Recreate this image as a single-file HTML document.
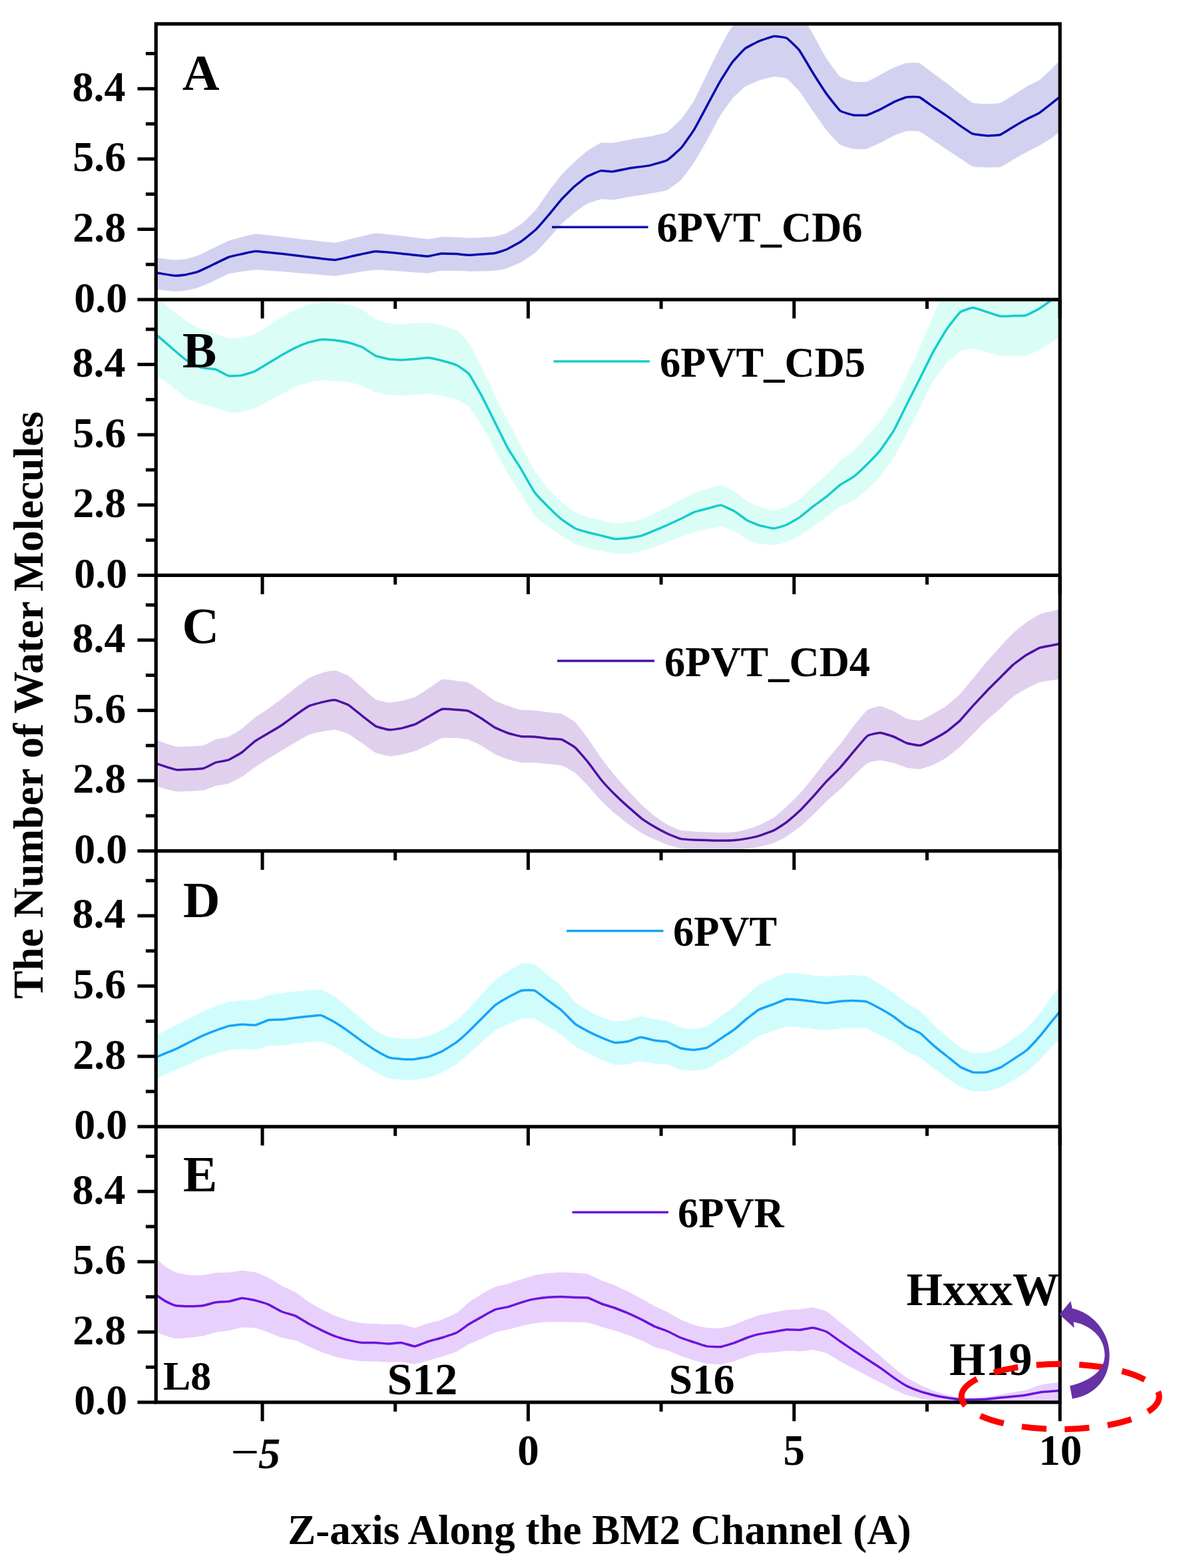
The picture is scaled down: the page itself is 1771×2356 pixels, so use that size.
<!DOCTYPE html>
<html lang="en"><head><meta charset="utf-8"><title>The Number of Water Molecules along the BM2 Channel</title>
<style>html,body{margin:0;padding:0;background:#fff}body{width:1771px;height:2356px;overflow:hidden}svg{display:block}text{font-family:'Liberation Serif', 'DejaVu Serif', serif;font-weight:bold;fill:#000}</style>
</head><body>
<svg width="1771" height="2356" viewBox="0 0 1771 2356">
<rect x="0" y="0" width="1771" height="2356" fill="#fff"/>
<defs>
<clipPath id="clipA"><rect x="234.3" y="35.9" width="1357.9" height="414.2"/></clipPath>
<clipPath id="clipB"><rect x="234.3" y="450.1" width="1357.9" height="414.3"/></clipPath>
<clipPath id="clipC"><rect x="234.3" y="864.4" width="1357.9" height="414.2"/></clipPath>
<clipPath id="clipD"><rect x="234.3" y="1278.6" width="1357.9" height="414.2"/></clipPath>
<clipPath id="clipE"><rect x="234.3" y="1692.8" width="1357.9" height="414.2"/></clipPath>
</defs>
<g>
<rect x="0" y="0" width="1771" height="2356" fill="#fff"/>
<g clip-path="url(#clipA)">
<path d="M231.3,386.6 C231.9,386.7 239.1,387.7 240.8,387.9 C242.6,388.1 259.1,390.5 261.3,390.6 C263.5,390.7 275.6,389.9 277.7,389.5 C279.8,389.1 294.6,385.1 296.8,384.3 C299.0,383.5 313.2,376.3 315.9,375.0 C318.6,373.7 340.5,363.0 343.2,361.9 C345.9,360.8 359.9,357.1 362.3,356.5 C364.7,355.9 380.5,351.6 384.2,351.6 C387.9,351.6 420.3,355.4 425.1,355.9 C429.9,356.4 461.6,360.3 466.1,360.8 C470.6,361.3 498.9,364.9 502.9,364.7 C506.9,364.5 530.7,358.1 534.3,357.3 C537.9,356.5 560.3,350.7 564.3,350.5 C568.3,350.3 598.1,353.8 602.6,354.3 C607.1,354.8 638.6,359.1 642.1,359.2 C645.6,359.3 660.0,356.1 662.6,355.9 C665.2,355.7 683.8,356.5 686.2,356.6 C688.6,356.7 701.1,357.7 704.4,357.6 C707.7,357.5 739.3,355.8 742.6,355.4 C745.9,355.0 759.3,351.1 761.7,350.0 C764.1,348.9 781.1,338.4 783.6,336.3 C786.1,334.2 803.0,317.4 805.4,314.5 C807.8,311.6 822.3,290.2 824.5,287.2 C826.7,284.2 841.4,265.1 843.6,262.6 C845.8,260.1 860.5,245.6 862.7,243.5 C864.9,241.4 879.5,228.8 881.8,227.1 C884.1,225.4 900.1,215.5 902.3,214.8 C904.5,214.1 917.5,215.1 920.1,214.8 C922.7,214.5 944.2,210.0 947.4,209.4 C950.6,208.8 971.5,205.9 974.7,205.3 C977.9,204.7 999.1,200.0 1002.0,198.4 C1004.9,196.8 1021.4,180.8 1023.8,178.0 C1026.2,175.2 1040.7,154.6 1042.9,150.7 C1045.1,146.8 1059.9,115.4 1062.0,111.1 C1064.1,106.8 1076.9,80.9 1078.9,77.0 C1080.9,73.1 1094.3,47.5 1096.7,44.2 C1099.1,40.9 1116.8,22.0 1119.3,19.6 C1121.8,17.2 1137.7,5.3 1140.2,3.9 C1142.7,2.5 1160.1,-4.6 1162.5,-5.0 C1164.9,-5.4 1179.4,-3.5 1181.6,-2.2 C1183.8,-0.9 1198.6,14.2 1200.7,16.9 C1202.8,19.6 1215.3,40.8 1217.7,44.9 C1220.1,49.0 1239.0,83.8 1241.6,87.9 C1244.2,92.0 1259.7,113.2 1262.1,115.2 C1264.5,117.2 1280.3,122.4 1282.6,122.8 C1284.9,123.2 1299.4,123.4 1301.7,122.8 C1304.0,122.2 1319.8,113.6 1322.2,112.4 C1324.6,111.2 1340.4,102.5 1342.7,101.5 C1345.0,100.5 1359.6,95.1 1361.8,94.7 C1364.0,94.3 1378.6,93.8 1380.9,94.7 C1383.2,95.6 1399.0,108.0 1401.4,109.7 C1403.8,111.5 1419.4,122.9 1421.8,124.7 C1424.2,126.5 1440.0,139.3 1442.3,141.1 C1444.6,142.9 1459.0,153.9 1461.4,154.8 C1463.8,155.7 1480.9,156.1 1483.3,156.1 C1485.7,156.1 1500.1,155.6 1502.4,154.8 C1504.7,154.0 1520.5,143.9 1522.8,142.5 C1525.1,141.1 1539.7,131.5 1541.9,130.2 C1544.1,128.9 1558.9,122.1 1561.1,120.6 C1563.3,119.1 1577.0,106.0 1578.8,104.3 C1580.6,102.5 1591.5,91.6 1592.5,90.6 C1593.5,89.6 1595.0,88.1 1595.2,87.9 L1595.2,195.6 C1595.0,195.7 1593.5,196.9 1592.5,197.6 C1591.5,198.3 1580.6,206.8 1578.8,208.0 C1577.0,209.2 1563.3,217.7 1561.1,218.9 C1558.9,220.1 1544.1,227.3 1541.9,228.5 C1539.7,229.7 1525.1,238.1 1522.8,239.4 C1520.5,240.7 1504.7,250.4 1502.4,251.1 C1500.1,251.8 1485.7,251.7 1483.3,251.7 C1480.9,251.7 1463.8,251.1 1461.4,250.3 C1459.0,249.5 1444.6,239.5 1442.3,238.0 C1440.0,236.5 1424.2,226.0 1421.8,224.4 C1419.4,222.8 1403.8,212.3 1401.4,210.7 C1399.0,209.1 1383.2,198.4 1380.9,197.6 C1378.6,196.8 1364.0,196.7 1361.8,197.1 C1359.6,197.5 1345.0,202.9 1342.7,203.9 C1340.4,204.9 1324.6,213.6 1322.2,214.8 C1319.8,216.0 1304.0,223.3 1301.7,223.8 C1299.4,224.3 1284.9,224.2 1282.6,223.8 C1280.3,223.4 1264.5,219.1 1262.1,217.5 C1259.7,215.9 1244.0,198.6 1241.6,195.7 C1239.2,192.8 1223.6,170.4 1221.2,167.0 C1218.8,163.6 1203.0,139.9 1200.7,137.0 C1198.4,134.1 1183.8,119.2 1181.6,117.9 C1179.4,116.6 1164.9,115.0 1162.5,115.2 C1160.1,115.4 1142.7,120.0 1140.2,120.9 C1137.7,121.8 1121.6,128.6 1119.3,130.2 C1117.0,131.8 1102.4,145.3 1100.2,147.9 C1098.0,150.5 1083.3,171.5 1081.1,175.2 C1078.9,178.9 1064.2,206.7 1062.0,210.7 C1059.8,214.7 1045.1,240.1 1042.9,243.5 C1040.7,246.9 1026.2,266.9 1023.8,269.4 C1021.4,271.9 1004.9,284.5 1002.0,285.8 C999.1,287.1 977.9,290.7 974.7,291.3 C971.5,291.9 950.6,294.9 947.4,295.4 C944.2,295.9 922.7,300.1 920.1,300.3 C917.5,300.5 904.5,299.0 902.3,299.4 C900.1,299.8 884.1,305.1 881.8,306.3 C879.5,307.5 864.9,318.1 862.7,319.9 C860.5,321.6 845.8,334.1 843.6,336.3 C841.4,338.5 826.7,355.6 824.5,358.1 C822.3,360.6 807.8,376.5 805.4,378.6 C803.0,380.7 786.1,392.2 783.6,393.6 C781.1,395.0 764.1,402.4 761.7,403.2 C759.3,404.0 745.9,406.4 742.6,406.7 C739.3,407.0 707.7,407.8 704.4,407.8 C701.1,407.8 688.6,407.2 686.2,407.1 C683.8,407.0 665.2,406.5 662.6,406.7 C660.0,406.9 645.6,410.4 642.1,410.5 C638.6,410.6 607.1,408.1 602.6,407.8 C598.1,407.5 568.3,405.5 564.3,405.6 C560.3,405.7 537.9,409.2 534.3,409.7 C530.7,410.2 506.9,414.5 502.9,414.6 C498.9,414.7 470.6,412.0 466.1,411.6 C461.6,411.2 429.9,408.7 425.1,408.3 C420.3,407.9 387.9,405.6 384.2,405.6 C380.5,405.6 364.7,407.9 362.3,408.3 C359.9,408.7 345.9,410.6 343.2,411.6 C340.5,412.6 318.6,423.5 315.9,424.7 C313.2,425.9 299.0,431.7 296.8,432.4 C294.6,433.1 279.8,436.4 277.7,436.7 C275.6,437.0 263.5,437.9 261.3,437.8 C259.1,437.7 242.6,435.7 240.8,435.5 C239.1,435.3 231.9,434.5 231.3,434.4 Z" fill="#d2d2f0"/>
<path d="M231.3,409.3 C231.9,409.4 239.1,410.5 240.8,410.8 C242.6,411.1 259.1,414.0 261.3,414.1 C263.5,414.2 275.6,413.3 277.7,413.0 C279.8,412.7 294.6,409.1 296.8,408.3 C299.0,407.5 313.2,400.9 315.9,399.6 C318.6,398.3 340.5,387.5 343.2,386.5 C345.9,385.5 359.9,382.4 362.3,381.9 C364.7,381.4 380.5,377.5 384.2,377.5 C387.9,377.5 420.3,381.1 425.1,381.6 C429.9,382.1 461.6,386.0 466.1,386.5 C470.6,387.0 498.9,390.8 502.9,390.6 C506.9,390.4 530.7,384.5 534.3,383.8 C537.9,383.1 560.3,378.0 564.3,377.8 C568.3,377.6 598.1,380.6 602.6,381.0 C607.1,381.4 638.6,385.1 642.1,385.1 C645.6,385.1 660.0,381.2 662.6,381.0 C665.2,380.8 683.8,381.5 686.2,381.6 C688.6,381.7 701.1,383.4 704.4,383.3 C707.7,383.2 739.3,381.0 742.6,380.5 C745.9,380.0 759.3,375.6 761.7,374.5 C764.1,373.4 781.1,363.9 783.6,362.2 C786.1,360.4 803.0,346.8 805.4,344.5 C807.8,342.2 822.3,325.3 824.5,322.7 C826.7,320.1 841.4,301.9 843.6,299.4 C845.8,296.9 860.5,282.3 862.7,280.3 C864.9,278.3 879.5,266.7 881.8,265.3 C884.1,263.9 900.1,257.0 902.3,256.6 C904.5,256.2 917.5,257.9 920.1,257.7 C922.7,257.5 944.2,253.0 947.4,252.5 C950.6,252.0 971.5,249.6 974.7,248.9 C977.9,248.2 999.1,242.4 1002.0,240.8 C1004.9,239.2 1021.4,224.3 1023.8,221.6 C1026.2,218.9 1040.7,198.0 1042.9,194.3 C1045.1,190.6 1059.8,163.0 1062.0,158.9 C1064.2,154.8 1078.9,127.2 1081.1,123.4 C1083.3,119.6 1098.0,96.2 1100.2,93.3 C1102.4,90.4 1117.0,74.7 1119.3,72.9 C1121.6,71.1 1137.7,63.0 1140.2,61.9 C1142.7,60.8 1160.1,54.9 1162.5,54.6 C1164.9,54.3 1179.4,56.1 1181.6,57.3 C1183.8,58.5 1198.4,72.5 1200.7,75.6 C1203.0,78.7 1218.8,105.9 1221.2,109.7 C1223.6,113.5 1239.2,137.8 1241.6,141.1 C1244.0,144.4 1259.7,164.6 1262.1,166.5 C1264.5,168.4 1280.3,172.6 1282.6,173.0 C1284.9,173.4 1299.4,173.5 1301.7,173.0 C1304.0,172.5 1319.8,165.4 1322.2,164.3 C1324.6,163.2 1340.4,154.5 1342.7,153.4 C1345.0,152.3 1359.6,146.4 1361.8,146.0 C1364.0,145.6 1378.6,145.2 1380.9,146.0 C1383.2,146.8 1399.0,158.6 1401.4,160.2 C1403.8,161.8 1419.4,172.2 1421.8,173.9 C1424.2,175.6 1440.0,187.3 1442.3,188.9 C1444.6,190.5 1459.0,200.3 1461.4,201.2 C1463.8,202.1 1480.9,203.8 1483.3,203.9 C1485.7,204.0 1500.1,203.3 1502.4,202.5 C1504.7,201.7 1520.5,191.6 1522.8,190.2 C1525.1,188.8 1539.7,180.5 1541.9,179.3 C1544.1,178.1 1558.9,171.2 1561.1,169.8 C1563.3,168.4 1577.0,157.5 1578.8,156.1 C1580.6,154.7 1591.5,146.0 1592.5,145.2 C1593.5,144.4 1595.0,143.2 1595.2,143.1" fill="none" stroke="#0c0cae" stroke-width="3.5" stroke-linejoin="round"/>
</g>
<g clip-path="url(#clipB)">
<path d="M231.3,442.7 C231.6,443.0 235.3,446.1 236.7,447.3 C238.1,448.5 253.3,461.6 255.8,463.7 C258.3,465.8 277.7,481.0 280.4,482.8 C283.1,484.6 299.8,493.9 302.3,495.0 C304.8,496.1 321.7,501.1 324.1,501.9 C326.5,502.7 341.0,507.8 343.2,508.1 C345.4,508.5 360.0,508.3 362.3,507.9 C364.6,507.5 380.4,503.0 382.8,501.9 C385.2,500.8 400.9,491.1 403.3,489.6 C405.7,488.1 421.3,477.3 423.7,475.9 C426.1,474.5 441.8,466.1 444.2,465.0 C446.6,463.9 462.4,458.2 464.7,457.6 C467.0,457.0 481.5,455.0 483.8,454.9 C486.1,454.8 501.9,455.3 504.3,455.5 C506.7,455.7 522.4,457.6 524.7,458.2 C527.0,458.8 541.6,463.8 543.9,465.0 C546.2,466.2 562.0,478.3 564.3,479.5 C566.6,480.7 581.2,485.1 583.4,485.5 C585.6,485.9 600.3,486.9 602.6,486.9 C604.9,486.9 620.6,485.6 623.0,485.5 C625.4,485.4 641.2,484.7 643.5,484.9 C645.8,485.1 660.1,487.6 662.6,488.2 C665.1,488.8 683.8,494.4 686.2,496.0 C688.6,497.6 702.2,512.3 704.4,515.5 C706.6,518.7 721.3,546.5 723.5,551.0 C725.7,555.5 740.3,587.2 742.6,592.0 C744.9,596.8 760.8,628.4 763.1,632.9 C765.4,637.4 779.9,664.1 782.2,668.4 C784.5,672.7 800.3,702.8 802.7,706.6 C805.1,710.4 820.7,731.1 823.1,733.9 C825.5,736.7 841.2,752.3 843.6,754.4 C846.0,756.5 861.8,768.0 864.1,769.4 C866.4,770.8 880.9,776.9 883.2,777.6 C885.5,778.3 901.3,781.2 903.7,781.7 C906.1,782.2 921.7,786.1 924.1,786.3 C926.5,786.5 942.3,784.8 944.6,784.4 C946.9,784.0 961.4,781.1 963.7,780.3 C966.0,779.5 981.9,771.9 984.2,770.8 C986.5,769.7 1001.0,762.4 1003.3,761.2 C1005.6,760.0 1021.5,751.5 1023.8,750.3 C1026.1,749.1 1040.6,741.7 1042.9,740.7 C1045.2,739.7 1061.1,734.6 1063.4,733.9 C1065.7,733.2 1080.2,728.3 1082.5,728.5 C1084.8,728.7 1100.7,736.6 1103.0,738.0 C1105.3,739.4 1119.9,751.6 1122.1,753.0 C1124.3,754.4 1137.8,760.7 1140.2,761.5 C1142.6,762.3 1160.1,766.7 1162.5,766.7 C1164.9,766.7 1179.4,762.2 1181.6,761.2 C1183.8,760.2 1198.4,752.0 1200.7,750.3 C1203.0,748.5 1218.8,733.4 1221.2,731.2 C1223.6,729.0 1239.2,715.6 1241.6,713.4 C1244.0,711.2 1259.7,695.1 1262.1,693.0 C1264.5,690.9 1280.2,678.8 1282.6,676.6 C1285.0,674.4 1300.8,657.3 1303.1,654.8 C1305.4,652.3 1319.9,635.9 1322.2,632.9 C1324.5,629.9 1340.4,606.9 1342.7,602.9 C1345.0,598.9 1359.5,569.5 1361.8,564.7 C1364.1,559.9 1379.9,526.3 1382.2,521.0 C1384.5,515.7 1399.4,479.2 1401.4,474.6 C1403.4,470.0 1414.7,445.6 1417.1,441.8 C1419.5,438.0 1439.7,411.4 1442.3,409.0 C1444.9,406.6 1459.1,401.1 1461.4,400.9 C1463.7,400.7 1479.5,405.6 1481.9,406.3 C1484.3,407.0 1500.1,412.7 1502.4,413.1 C1504.7,413.5 1519.3,413.2 1521.5,413.1 C1523.7,413.0 1538.3,412.5 1540.6,411.8 C1542.9,411.1 1558.9,402.3 1561.1,400.9 C1563.3,399.5 1577.0,388.5 1578.8,387.2 C1580.6,385.9 1591.5,379.6 1592.5,379.0 C1593.5,378.4 1595.0,377.5 1595.2,377.4 L1595.2,504.2 C1595.0,504.3 1593.5,505.4 1592.5,506.0 C1591.5,506.6 1580.6,513.8 1578.8,515.0 C1577.0,516.2 1563.3,525.3 1561.1,526.4 C1558.9,527.5 1542.9,533.6 1540.6,534.1 C1538.3,534.6 1523.7,535.2 1521.5,535.2 C1519.3,535.2 1504.7,535.0 1502.4,534.6 C1500.1,534.2 1484.3,529.8 1481.9,529.2 C1479.5,528.6 1463.7,523.8 1461.4,523.7 C1459.1,523.6 1444.6,526.5 1442.3,527.8 C1440.0,529.1 1424.2,543.0 1421.8,545.6 C1419.4,548.2 1403.7,569.0 1401.4,572.9 C1399.1,576.8 1384.5,607.8 1382.2,612.4 C1379.9,617.0 1364.1,647.6 1361.8,652.0 C1359.5,656.4 1345.0,683.8 1342.7,687.5 C1340.4,691.2 1324.5,713.4 1322.2,716.2 C1319.9,719.0 1305.4,733.2 1303.1,735.3 C1300.8,737.4 1285.0,750.2 1282.6,751.7 C1280.2,753.2 1264.5,759.8 1262.1,761.2 C1259.7,762.6 1244.0,774.4 1241.6,776.2 C1239.2,778.0 1223.6,789.6 1221.2,791.3 C1218.8,793.0 1203.0,803.5 1200.7,804.9 C1198.4,806.3 1183.8,813.7 1181.6,814.5 C1179.4,815.3 1164.9,819.0 1162.5,819.1 C1160.1,819.2 1142.6,817.3 1140.2,816.8 C1137.8,816.3 1124.3,811.5 1122.1,810.4 C1119.9,809.3 1105.3,799.2 1103.0,798.1 C1100.7,797.0 1084.8,791.5 1082.5,791.3 C1080.2,791.1 1065.7,794.8 1063.4,795.3 C1061.1,795.8 1045.2,798.8 1042.9,799.4 C1040.6,800.0 1026.1,805.4 1023.8,806.3 C1021.5,807.2 1005.6,813.6 1003.3,814.5 C1001.0,815.4 986.5,820.5 984.2,821.3 C981.9,822.1 966.0,827.5 963.7,828.1 C961.4,828.7 946.9,831.5 944.6,831.7 C942.3,831.9 926.5,832.4 924.1,832.2 C921.7,832.0 906.1,828.6 903.7,828.1 C901.3,827.6 885.5,824.6 883.2,824.0 C880.9,823.4 866.4,818.3 864.1,817.2 C861.8,816.1 846.0,806.4 843.6,804.9 C841.2,803.4 825.5,793.0 823.1,791.3 C820.7,789.5 805.1,777.8 802.7,774.9 C800.3,772.0 784.5,745.8 782.2,742.1 C779.9,738.4 765.4,716.1 763.1,712.1 C760.8,708.1 744.9,678.2 742.6,673.9 C740.3,669.6 725.7,642.1 723.5,638.4 C721.3,634.7 706.6,613.3 704.4,611.1 C702.2,608.9 688.6,601.3 686.2,600.3 C683.8,599.3 665.1,595.2 662.6,594.7 C660.1,594.2 645.8,591.5 643.5,591.4 C641.2,591.3 625.4,593.1 623.0,593.3 C620.6,593.5 604.9,594.7 602.6,594.7 C600.3,594.7 585.6,593.6 583.4,593.3 C581.2,593.0 566.6,590.0 564.3,589.2 C562.0,588.4 546.2,580.6 543.9,579.7 C541.6,578.8 527.0,574.6 524.7,574.2 C522.4,573.8 506.7,573.1 504.3,572.9 C501.9,572.7 486.1,571.4 483.8,571.5 C481.5,571.6 467.0,573.6 464.7,574.2 C462.4,574.8 446.6,580.0 444.2,581.0 C441.8,582.0 426.1,590.7 423.7,592.0 C421.3,593.3 405.7,601.7 403.3,602.9 C400.9,604.1 385.2,612.3 382.8,613.3 C380.4,614.3 364.6,618.9 362.3,619.3 C360.0,619.7 345.4,620.2 343.2,619.8 C341.0,619.4 326.5,613.1 324.1,612.4 C321.7,611.7 304.8,607.8 302.3,607.0 C299.8,606.2 283.1,600.5 280.4,598.8 C277.7,597.1 258.3,580.2 255.8,578.3 C253.3,576.4 238.1,566.9 236.7,566.0 C235.3,565.1 231.6,562.7 231.3,562.5 Z" fill="#dafef6"/>
<path d="M231.3,500.0 C231.6,500.3 235.3,503.4 236.7,504.6 C238.1,505.8 253.3,518.8 255.8,521.0 C258.3,523.2 277.7,539.7 280.4,541.5 C283.1,543.3 299.8,551.6 302.3,552.4 C304.8,553.2 321.7,554.4 324.1,555.1 C326.5,555.8 341.0,564.2 343.2,564.7 C345.4,565.2 360.0,564.5 362.3,564.1 C364.6,563.7 380.4,558.9 382.8,557.8 C385.2,556.7 400.9,547.0 403.3,545.6 C405.7,544.2 421.3,534.7 423.7,533.3 C426.1,531.9 441.8,523.4 444.2,522.3 C446.6,521.2 462.4,514.9 464.7,514.2 C467.0,513.5 481.5,510.3 483.8,510.1 C486.1,509.9 501.9,511.1 504.3,511.4 C506.7,511.7 522.4,514.4 524.7,515.0 C527.0,515.6 541.6,520.4 543.9,521.5 C546.2,522.6 562.0,533.6 564.3,534.6 C566.6,535.6 581.2,539.1 583.4,539.5 C585.6,539.9 600.3,540.9 602.6,540.9 C604.9,540.9 620.6,539.7 623.0,539.5 C625.4,539.3 641.2,537.3 643.5,537.4 C645.8,537.5 660.1,540.8 662.6,541.5 C665.1,542.2 683.8,547.5 686.2,548.7 C688.6,549.9 702.2,559.2 704.4,561.9 C706.6,564.6 721.3,590.6 723.5,594.7 C725.7,598.8 740.3,628.3 742.6,632.9 C744.9,637.5 760.8,669.8 763.1,673.9 C765.4,678.0 779.9,700.1 782.2,703.9 C784.5,707.7 800.3,736.1 802.7,739.4 C805.1,742.7 820.7,758.8 823.1,761.2 C825.5,763.6 841.2,778.4 843.6,780.3 C846.0,782.2 861.8,792.9 864.1,794.0 C866.4,795.1 880.9,799.4 883.2,800.0 C885.5,800.6 901.3,804.3 903.7,804.9 C906.1,805.5 921.7,809.6 924.1,809.8 C926.5,810.0 942.3,808.5 944.6,808.2 C946.9,807.9 961.4,805.6 963.7,804.9 C966.0,804.2 981.9,797.7 984.2,796.7 C986.5,795.7 1001.0,789.5 1003.3,788.5 C1005.6,787.5 1021.5,780.1 1023.8,779.0 C1026.1,777.9 1040.6,770.3 1042.9,769.4 C1045.2,768.5 1061.1,764.6 1063.4,764.0 C1065.7,763.4 1080.2,758.8 1082.5,759.0 C1084.8,759.2 1100.7,766.7 1103.0,768.0 C1105.3,769.3 1119.9,780.5 1122.1,781.7 C1124.3,782.9 1137.8,788.5 1140.2,789.2 C1142.6,789.9 1160.1,794.0 1162.5,794.0 C1164.9,794.0 1179.4,789.5 1181.6,788.5 C1183.8,787.5 1198.4,779.2 1200.7,777.6 C1203.0,776.0 1218.8,763.0 1221.2,761.2 C1223.6,759.4 1239.2,748.1 1241.6,746.2 C1244.0,744.3 1259.7,730.2 1262.1,728.5 C1264.5,726.8 1280.2,718.0 1282.6,716.2 C1285.0,714.4 1300.8,699.4 1303.1,697.1 C1305.4,694.8 1319.9,679.5 1322.2,676.6 C1324.5,673.7 1340.4,650.6 1342.7,646.6 C1345.0,642.6 1359.5,612.9 1361.8,608.3 C1364.1,603.7 1379.9,572.5 1382.2,567.9 C1384.5,563.3 1399.1,533.7 1401.4,529.4 C1403.7,525.1 1419.4,498.5 1421.8,495.0 C1424.2,491.5 1440.0,471.0 1442.3,469.1 C1444.6,467.2 1459.1,462.3 1461.4,462.3 C1463.7,462.3 1479.5,467.9 1481.9,468.6 C1484.3,469.3 1500.1,474.8 1502.4,475.1 C1504.7,475.5 1519.3,474.7 1521.5,474.6 C1523.7,474.5 1538.3,474.6 1540.6,474.0 C1542.9,473.4 1558.9,465.0 1561.1,463.7 C1563.3,462.4 1577.0,452.7 1578.8,451.4 C1580.6,450.1 1591.5,442.5 1592.5,441.8 C1593.5,441.1 1595.0,440.0 1595.2,439.9" fill="none" stroke="#16cccc" stroke-width="3.5" stroke-linejoin="round"/>
</g>
<g clip-path="url(#clipC)">
<path d="M231.3,1110.6 C231.6,1110.7 234.7,1111.7 236.7,1112.4 C238.7,1113.1 261.4,1121.6 265.4,1122.0 C269.4,1122.4 301.6,1120.7 305.0,1120.1 C308.4,1119.5 321.9,1111.9 324.1,1111.1 C326.3,1110.3 340.9,1108.0 343.2,1107.0 C345.5,1106.0 361.4,1096.4 363.7,1094.7 C366.0,1093.0 380.5,1080.0 382.8,1078.3 C385.1,1076.5 400.9,1066.4 403.3,1064.7 C405.7,1063.0 421.3,1051.4 423.7,1049.6 C426.1,1047.8 441.8,1035.1 444.2,1033.3 C446.6,1031.5 462.4,1019.5 464.7,1018.2 C467.0,1016.9 481.6,1011.5 483.8,1010.9 C486.0,1010.3 500.6,1007.0 502.9,1007.3 C505.2,1007.6 521.0,1014.0 523.4,1015.5 C525.8,1017.0 541.5,1031.2 543.9,1033.3 C546.3,1035.4 561.9,1049.7 564.3,1051.0 C566.7,1052.3 582.5,1055.5 584.8,1055.6 C587.1,1055.7 601.6,1053.4 603.9,1052.9 C606.2,1052.4 622.1,1048.0 624.4,1046.9 C626.7,1045.8 641.2,1036.1 643.5,1034.6 C645.8,1033.1 661.5,1021.7 664.0,1021.0 C666.5,1020.3 683.9,1022.7 686.2,1023.0 C688.5,1023.3 700.8,1024.7 703.0,1025.6 C705.2,1026.5 721.2,1037.1 723.5,1038.7 C725.8,1040.3 740.3,1051.1 742.6,1052.4 C744.9,1053.7 760.8,1059.8 763.1,1060.6 C765.4,1061.4 779.9,1066.2 782.2,1066.6 C784.5,1067.0 800.3,1067.2 802.7,1067.4 C805.1,1067.6 820.7,1069.8 823.1,1070.1 C825.5,1070.4 841.2,1071.9 843.6,1072.8 C846.0,1073.7 861.8,1082.9 864.1,1085.1 C866.4,1087.3 880.9,1106.5 883.2,1109.7 C885.5,1112.9 901.4,1136.5 903.7,1139.7 C906.0,1142.9 920.5,1161.5 922.8,1164.3 C925.1,1167.1 940.9,1184.9 943.3,1187.5 C945.7,1190.1 961.4,1207.1 963.7,1209.3 C966.0,1211.5 980.5,1223.9 982.8,1225.7 C985.1,1227.5 1001.0,1238.1 1003.3,1239.4 C1005.6,1240.7 1020.1,1247.0 1022.4,1247.6 C1024.7,1248.2 1040.6,1249.3 1042.9,1249.5 C1045.2,1249.7 1059.7,1250.2 1062.0,1250.3 C1064.3,1250.4 1080.1,1251.1 1082.5,1251.1 C1084.9,1251.1 1100.7,1250.6 1103.0,1250.3 C1105.3,1250.0 1119.9,1246.8 1122.1,1246.2 C1124.3,1245.6 1137.8,1241.0 1140.2,1240.0 C1142.6,1239.0 1160.1,1230.1 1162.5,1228.5 C1164.9,1226.9 1179.3,1214.3 1181.6,1212.1 C1183.9,1209.9 1199.8,1194.1 1202.1,1191.6 C1204.4,1189.1 1218.9,1171.3 1221.2,1168.4 C1223.5,1165.5 1239.2,1145.4 1241.6,1142.5 C1244.0,1139.6 1259.7,1120.9 1262.1,1117.9 C1264.5,1114.9 1280.2,1093.6 1282.6,1090.6 C1285.0,1087.6 1300.8,1068.3 1303.1,1066.6 C1305.4,1064.9 1319.9,1061.0 1322.2,1061.1 C1324.5,1061.2 1340.4,1067.7 1342.7,1068.8 C1345.0,1069.9 1359.5,1078.9 1361.8,1079.7 C1364.1,1080.5 1379.9,1082.8 1382.2,1082.4 C1384.5,1082.0 1399.1,1074.1 1401.4,1072.8 C1403.7,1071.5 1419.4,1062.3 1421.8,1060.6 C1424.2,1058.8 1440.0,1045.2 1442.3,1042.8 C1444.6,1040.4 1459.1,1022.4 1461.4,1019.6 C1463.7,1016.8 1479.5,997.8 1481.9,995.0 C1484.3,992.2 1500.1,974.3 1502.4,971.8 C1504.7,969.3 1519.2,953.5 1521.5,951.4 C1523.8,949.3 1539.5,936.7 1541.9,935.0 C1544.3,933.3 1560.2,923.7 1562.4,922.7 C1564.6,921.7 1577.0,919.0 1578.8,918.6 C1580.6,918.2 1591.5,915.5 1592.5,915.3 C1593.5,915.1 1595.0,914.6 1595.2,914.6 L1595.2,1019.8 C1595.0,1019.8 1593.5,1020.1 1592.5,1020.2 C1591.5,1020.3 1580.6,1022.0 1578.8,1022.3 C1577.0,1022.6 1564.6,1024.4 1562.4,1025.1 C1560.2,1025.8 1544.3,1033.3 1541.9,1034.6 C1539.5,1035.9 1523.8,1045.1 1521.5,1046.9 C1519.2,1048.7 1504.7,1062.6 1502.4,1064.7 C1500.1,1066.8 1484.3,1080.2 1481.9,1082.4 C1479.5,1084.6 1463.7,1100.6 1461.4,1102.9 C1459.1,1105.2 1444.6,1119.9 1442.3,1122.0 C1440.0,1124.1 1424.2,1136.8 1421.8,1138.4 C1419.4,1140.0 1403.7,1148.3 1401.4,1149.3 C1399.1,1150.3 1384.5,1155.4 1382.2,1155.6 C1379.9,1155.8 1364.1,1153.9 1361.8,1153.4 C1359.5,1152.9 1345.0,1147.2 1342.7,1146.6 C1340.4,1146.0 1324.5,1142.5 1322.2,1142.5 C1319.9,1142.5 1305.4,1145.2 1303.1,1146.6 C1300.8,1148.0 1285.0,1163.4 1282.6,1165.7 C1280.2,1168.0 1264.5,1183.9 1262.1,1186.1 C1259.7,1188.3 1244.0,1201.7 1241.6,1203.9 C1239.2,1206.1 1223.5,1222.2 1221.2,1224.4 C1218.9,1226.6 1204.4,1240.2 1202.1,1242.1 C1199.8,1244.0 1183.9,1255.7 1181.6,1257.1 C1179.3,1258.5 1164.9,1265.8 1162.5,1266.7 C1160.1,1267.6 1142.6,1271.9 1140.2,1272.4 C1137.8,1272.9 1124.3,1274.6 1122.1,1274.9 C1119.9,1275.2 1105.3,1276.7 1103.0,1276.8 C1100.7,1276.9 1084.9,1277.3 1082.5,1277.3 C1080.1,1277.3 1064.3,1277.3 1062.0,1277.3 C1059.7,1277.3 1045.2,1276.9 1042.9,1276.8 C1040.6,1276.7 1024.7,1275.3 1022.4,1274.9 C1020.1,1274.5 1005.6,1270.2 1003.3,1269.4 C1001.0,1268.6 985.1,1262.2 982.8,1261.2 C980.5,1260.2 966.0,1253.1 963.7,1251.7 C961.4,1250.3 945.7,1239.8 943.3,1238.0 C940.9,1236.2 925.1,1223.6 922.8,1221.6 C920.5,1219.6 906.0,1206.3 903.7,1203.9 C901.4,1201.5 885.5,1183.2 883.2,1180.7 C880.9,1178.2 866.4,1163.4 864.1,1161.6 C861.8,1159.8 846.0,1150.9 843.6,1150.1 C841.2,1149.3 825.5,1148.1 823.1,1147.9 C820.7,1147.7 805.1,1146.1 802.7,1146.0 C800.3,1145.9 784.5,1146.0 782.2,1145.7 C779.9,1145.4 765.4,1141.8 763.1,1141.1 C760.8,1140.4 744.9,1134.1 742.6,1132.9 C740.3,1131.7 725.8,1121.9 723.5,1120.6 C721.2,1119.3 705.2,1111.8 703.0,1111.1 C700.8,1110.4 688.5,1109.1 686.2,1109.0 C683.9,1108.9 666.5,1108.3 664.0,1108.9 C661.5,1109.5 645.8,1118.2 643.5,1119.3 C641.2,1120.4 626.7,1127.5 624.4,1128.3 C622.1,1129.1 606.2,1133.2 603.9,1133.7 C601.6,1134.2 587.1,1136.4 584.8,1136.2 C582.5,1136.0 566.7,1132.1 564.3,1131.0 C561.9,1129.9 546.3,1118.1 543.9,1116.5 C541.5,1114.9 525.8,1104.1 523.4,1102.9 C521.0,1101.7 505.2,1096.8 502.9,1096.6 C500.6,1096.4 486.0,1098.9 483.8,1099.3 C481.6,1099.7 467.0,1102.8 464.7,1103.7 C462.4,1104.6 446.6,1113.8 444.2,1115.2 C441.8,1116.6 426.1,1126.0 423.7,1127.4 C421.3,1128.8 405.7,1138.2 403.3,1139.7 C400.9,1141.2 385.1,1151.2 382.8,1152.8 C380.5,1154.4 366.0,1165.6 363.7,1167.0 C361.4,1168.4 345.5,1176.6 343.2,1177.4 C340.9,1178.2 326.3,1180.1 324.1,1180.7 C321.9,1181.3 308.4,1187.0 305.0,1187.5 C301.6,1188.0 269.4,1189.7 265.4,1189.4 C261.4,1189.1 238.7,1182.5 236.7,1182.0 C234.7,1181.5 231.6,1180.7 231.3,1180.6 Z" fill="#e0d0ee"/>
<path d="M231.3,1146.2 C231.6,1146.3 234.7,1147.3 236.7,1147.9 C238.7,1148.5 261.4,1156.3 265.4,1156.7 C269.4,1157.1 301.6,1155.3 305.0,1154.7 C308.4,1154.1 321.9,1146.4 324.1,1145.7 C326.3,1145.0 340.9,1142.8 343.2,1141.9 C345.5,1141.0 361.4,1131.8 363.7,1130.2 C366.0,1128.6 380.5,1115.5 382.8,1113.8 C385.1,1112.1 400.9,1102.9 403.3,1101.5 C405.7,1100.1 421.3,1090.8 423.7,1089.2 C426.1,1087.6 441.8,1075.9 444.2,1074.2 C446.6,1072.5 462.4,1061.7 464.7,1060.6 C467.0,1059.5 481.6,1055.6 483.8,1055.1 C486.0,1054.6 500.6,1051.6 502.9,1051.8 C505.2,1052.0 521.0,1057.8 523.4,1059.2 C525.8,1060.6 541.5,1073.7 543.9,1075.6 C546.3,1077.5 561.9,1089.9 564.3,1091.1 C566.7,1092.3 582.5,1096.4 584.8,1096.6 C587.1,1096.8 601.6,1094.6 603.9,1094.1 C606.2,1093.6 622.1,1088.9 624.4,1087.9 C626.7,1086.9 641.2,1078.2 643.5,1076.9 C645.8,1075.6 661.5,1066.1 664.0,1065.5 C666.5,1064.9 683.9,1066.2 686.2,1066.4 C688.5,1066.6 700.8,1067.4 703.0,1068.2 C705.2,1069.0 721.2,1078.3 723.5,1079.7 C725.8,1081.1 740.3,1091.5 742.6,1092.8 C744.9,1094.1 760.8,1100.7 763.1,1101.5 C765.4,1102.3 779.9,1106.1 782.2,1106.4 C784.5,1106.7 800.3,1106.8 802.7,1107.0 C805.1,1107.2 820.7,1109.5 823.1,1109.7 C825.5,1109.9 841.2,1110.3 843.6,1111.1 C846.0,1111.9 861.8,1121.4 864.1,1123.4 C866.4,1125.4 880.9,1142.3 883.2,1145.2 C885.5,1148.1 901.4,1169.7 903.7,1172.5 C906.0,1175.3 920.5,1190.7 922.8,1193.0 C925.1,1195.3 940.9,1210.0 943.3,1212.1 C945.7,1214.2 961.4,1228.0 963.7,1229.8 C966.0,1231.5 980.5,1240.7 982.8,1242.1 C985.1,1243.5 1001.0,1251.9 1003.3,1253.0 C1005.6,1254.1 1020.1,1259.9 1022.4,1260.4 C1024.7,1260.9 1040.6,1261.9 1042.9,1262.0 C1045.2,1262.1 1059.7,1262.5 1062.0,1262.6 C1064.3,1262.7 1080.1,1263.1 1082.5,1263.1 C1084.9,1263.1 1100.7,1262.8 1103.0,1262.6 C1105.3,1262.4 1119.9,1260.3 1122.1,1259.9 C1124.3,1259.5 1137.8,1256.6 1140.2,1255.9 C1142.6,1255.2 1160.1,1248.8 1162.5,1247.6 C1164.9,1246.4 1179.3,1237.1 1181.6,1235.3 C1183.9,1233.5 1199.8,1219.7 1202.1,1217.5 C1204.4,1215.3 1218.9,1199.6 1221.2,1197.1 C1223.5,1194.6 1239.2,1176.4 1241.6,1173.9 C1244.0,1171.4 1259.7,1156.0 1262.1,1153.4 C1264.5,1150.8 1280.2,1131.6 1282.6,1128.8 C1285.0,1126.0 1300.8,1107.2 1303.1,1105.6 C1305.4,1104.0 1319.9,1100.9 1322.2,1101.0 C1324.5,1101.1 1340.4,1106.1 1342.7,1107.0 C1345.0,1107.9 1359.5,1115.7 1361.8,1116.5 C1364.1,1117.3 1379.9,1120.4 1382.2,1120.1 C1384.5,1119.8 1399.1,1112.3 1401.4,1111.1 C1403.7,1109.9 1419.4,1101.0 1421.8,1099.3 C1424.2,1097.6 1440.0,1084.7 1442.3,1082.4 C1444.6,1080.1 1459.1,1063.1 1461.4,1060.6 C1463.7,1058.1 1479.5,1041.2 1481.9,1038.7 C1484.3,1036.2 1500.1,1020.5 1502.4,1018.2 C1504.7,1015.9 1519.2,1001.1 1521.5,999.1 C1523.8,997.1 1539.5,985.6 1541.9,984.1 C1544.3,982.6 1560.2,974.0 1562.4,973.2 C1564.6,972.4 1577.0,970.2 1578.8,969.9 C1580.6,969.5 1591.5,967.4 1592.5,967.2 C1593.5,967.0 1595.0,966.7 1595.2,966.7" fill="none" stroke="#4d10a3" stroke-width="3.5" stroke-linejoin="round"/>
</g>
<g clip-path="url(#clipD)">
<path d="M231.3,1557.2 C231.9,1556.9 238.8,1553.4 240.8,1552.4 C242.8,1551.4 262.9,1541.4 265.4,1540.1 C267.9,1538.8 282.2,1531.7 284.5,1530.5 C286.8,1529.3 302.7,1520.7 305.0,1519.6 C307.3,1518.5 321.8,1512.2 324.1,1511.4 C326.4,1510.6 342.3,1505.6 344.6,1505.1 C346.9,1504.6 361.4,1503.4 363.7,1503.2 C366.0,1503.0 381.9,1502.9 384.2,1502.4 C386.5,1501.9 401.0,1495.6 403.3,1495.0 C405.6,1494.4 421.3,1492.6 423.7,1492.3 C426.1,1492.0 441.8,1489.9 444.2,1489.6 C446.6,1489.3 462.5,1487.9 464.7,1487.7 C466.9,1487.5 480.2,1486.2 482.4,1486.8 C484.6,1487.4 500.5,1496.2 502.9,1497.8 C505.3,1499.4 521.0,1512.1 523.4,1514.1 C525.8,1516.1 541.5,1529.9 543.9,1531.9 C546.3,1533.9 561.9,1546.7 564.3,1548.3 C566.7,1549.9 582.5,1557.9 584.8,1558.6 C587.1,1559.3 601.7,1560.5 603.9,1560.6 C606.1,1560.7 620.7,1560.8 623.0,1560.6 C625.3,1560.4 641.1,1557.3 643.5,1556.5 C645.9,1555.7 661.5,1549.1 664.0,1547.7 C666.5,1546.3 683.8,1535.1 686.2,1533.2 C688.6,1531.3 702.2,1517.3 704.4,1515.0 C706.6,1512.7 721.2,1496.7 723.5,1494.2 C725.8,1491.7 741.6,1474.5 744.0,1472.4 C746.4,1470.3 762.1,1460.1 764.4,1458.7 C766.7,1457.3 781.4,1448.4 783.6,1447.8 C785.8,1447.2 800.4,1447.6 802.7,1448.6 C805.0,1449.6 820.7,1463.1 823.1,1465.0 C825.5,1466.9 841.2,1479.0 843.6,1481.4 C846.0,1483.8 861.8,1503.9 864.1,1506.0 C866.4,1508.1 880.9,1516.9 883.2,1518.2 C885.5,1519.5 901.3,1527.6 903.7,1528.6 C906.1,1529.6 921.8,1534.4 924.1,1534.6 C926.4,1534.8 941.1,1532.8 943.3,1532.4 C945.5,1532.0 960.1,1527.1 962.4,1527.0 C964.7,1526.9 980.5,1530.9 982.8,1531.3 C985.1,1531.7 999.7,1533.3 1002.0,1534.1 C1004.3,1534.9 1020.1,1543.5 1022.4,1544.2 C1024.7,1544.9 1039.2,1546.2 1041.5,1546.1 C1043.8,1546.0 1059.6,1543.4 1062.0,1542.3 C1064.4,1541.2 1080.1,1528.8 1082.5,1527.0 C1084.9,1525.2 1100.7,1514.1 1103.0,1512.2 C1105.3,1510.3 1119.9,1496.9 1122.1,1495.0 C1124.3,1493.1 1137.8,1481.5 1140.2,1480.0 C1142.6,1478.5 1160.1,1470.1 1162.5,1469.1 C1164.9,1468.1 1179.3,1462.6 1181.6,1462.3 C1183.9,1462.0 1199.7,1462.9 1202.1,1463.1 C1204.5,1463.3 1220.2,1465.6 1222.5,1465.8 C1224.8,1466.0 1239.3,1467.2 1241.6,1467.2 C1243.9,1467.2 1259.8,1465.9 1262.1,1465.8 C1264.4,1465.7 1278.9,1464.9 1281.2,1465.0 C1283.5,1465.1 1299.3,1466.1 1301.7,1466.9 C1304.1,1467.7 1319.8,1477.2 1322.2,1478.7 C1324.6,1480.2 1340.4,1490.6 1342.7,1492.3 C1345.0,1494.0 1359.5,1505.8 1361.8,1507.3 C1364.1,1508.8 1379.9,1517.0 1382.2,1518.8 C1384.5,1520.6 1399.1,1536.5 1401.4,1538.7 C1403.7,1540.9 1419.4,1554.4 1421.8,1556.5 C1424.2,1558.6 1440.0,1572.7 1442.3,1574.2 C1444.6,1575.7 1459.1,1582.0 1461.4,1582.4 C1463.7,1582.8 1479.5,1582.1 1481.9,1581.6 C1484.3,1581.1 1500.1,1575.4 1502.4,1574.2 C1504.7,1573.0 1519.2,1562.3 1521.5,1560.6 C1523.8,1558.9 1539.5,1547.7 1541.9,1545.5 C1544.3,1543.3 1560.2,1525.0 1562.4,1522.3 C1564.6,1519.6 1577.0,1501.5 1578.8,1499.1 C1580.6,1496.7 1591.5,1482.6 1592.5,1481.4 C1593.5,1480.2 1595.0,1478.1 1595.2,1477.9 L1595.2,1557.9 C1595.0,1558.1 1593.5,1559.6 1592.5,1560.6 C1591.5,1561.6 1580.6,1572.4 1578.8,1574.2 C1577.0,1576.0 1564.6,1589.8 1562.4,1592.0 C1560.2,1594.2 1544.3,1609.3 1541.9,1611.1 C1539.5,1612.9 1523.8,1621.9 1521.5,1623.3 C1519.2,1624.7 1504.7,1633.3 1502.4,1634.3 C1500.1,1635.3 1484.3,1639.4 1481.9,1639.7 C1479.5,1640.0 1463.7,1640.1 1461.4,1639.7 C1459.1,1639.3 1444.6,1634.1 1442.3,1632.9 C1440.0,1631.7 1424.2,1621.0 1421.8,1619.3 C1419.4,1617.6 1403.7,1606.0 1401.4,1604.2 C1399.1,1602.4 1384.5,1590.6 1382.2,1589.2 C1379.9,1587.8 1364.1,1581.1 1361.8,1579.7 C1359.5,1578.3 1345.0,1567.4 1342.7,1566.0 C1340.4,1564.6 1324.6,1556.3 1322.2,1555.1 C1319.8,1553.9 1304.1,1546.1 1301.7,1545.5 C1299.3,1544.9 1283.5,1544.2 1281.2,1544.2 C1278.9,1544.2 1264.4,1545.3 1262.1,1545.5 C1259.8,1545.7 1243.9,1548.3 1241.6,1548.3 C1239.3,1548.3 1224.8,1546.4 1222.5,1546.1 C1220.2,1545.8 1204.5,1543.6 1202.1,1543.4 C1199.7,1543.2 1183.9,1542.0 1181.6,1542.3 C1179.3,1542.6 1164.9,1548.0 1162.5,1548.8 C1160.1,1549.6 1142.6,1555.2 1140.2,1556.4 C1137.8,1557.6 1124.3,1567.2 1122.1,1568.7 C1119.9,1570.2 1105.3,1580.9 1103.0,1582.4 C1100.7,1583.9 1084.9,1592.7 1082.5,1594.1 C1080.1,1595.5 1064.4,1604.7 1062.0,1605.6 C1059.6,1606.5 1043.8,1608.8 1041.5,1608.9 C1039.2,1609.0 1024.7,1608.3 1022.4,1607.8 C1020.1,1607.3 1004.3,1600.2 1002.0,1599.6 C999.7,1599.0 985.1,1598.3 982.8,1598.0 C980.5,1597.7 964.7,1594.7 962.4,1594.7 C960.1,1594.7 945.5,1598.5 943.3,1598.8 C941.1,1599.1 926.4,1600.5 924.1,1600.1 C921.8,1599.7 906.1,1593.0 903.7,1592.0 C901.3,1591.0 885.5,1583.5 883.2,1582.4 C880.9,1581.3 866.4,1573.9 864.1,1572.3 C861.8,1570.7 846.0,1556.8 843.6,1555.1 C841.2,1553.3 825.5,1543.7 823.1,1542.3 C820.7,1540.9 805.0,1531.2 802.7,1530.5 C800.4,1529.8 785.8,1530.0 783.6,1530.5 C781.4,1531.0 766.7,1537.7 764.4,1538.7 C762.1,1539.7 746.4,1546.7 744.0,1548.3 C741.6,1549.9 725.8,1564.0 723.5,1566.0 C721.2,1568.0 706.6,1581.3 704.4,1583.2 C702.2,1585.1 688.6,1597.1 686.2,1598.8 C683.8,1600.5 666.5,1610.4 664.0,1611.6 C661.5,1612.8 645.9,1618.7 643.5,1619.3 C641.1,1619.9 625.3,1622.3 623.0,1622.5 C620.7,1622.7 606.1,1622.6 603.9,1622.5 C601.7,1622.4 587.1,1621.3 584.8,1620.6 C582.5,1619.9 566.7,1612.4 564.3,1611.1 C561.9,1609.8 546.3,1600.3 543.9,1598.8 C541.5,1597.3 525.8,1586.6 523.4,1585.1 C521.0,1583.6 505.3,1574.0 502.9,1572.8 C500.5,1571.6 484.6,1565.1 482.4,1564.7 C480.2,1564.3 466.9,1565.8 464.7,1566.0 C462.5,1566.2 446.6,1567.6 444.2,1567.9 C441.8,1568.2 426.1,1570.5 423.7,1570.7 C421.3,1570.9 405.6,1571.1 403.3,1571.5 C401.0,1571.9 386.5,1576.6 384.2,1576.9 C381.9,1577.2 366.0,1576.0 363.7,1576.1 C361.4,1576.2 346.9,1577.4 344.6,1577.8 C342.3,1578.2 326.4,1582.5 324.1,1583.2 C321.8,1583.9 307.3,1588.3 305.0,1589.2 C302.7,1590.1 286.8,1597.8 284.5,1598.8 C282.2,1599.8 267.9,1605.9 265.4,1607.0 C262.9,1608.1 242.8,1617.0 240.8,1617.9 C238.8,1618.8 231.9,1621.9 231.3,1622.1 Z" fill="#d0fdfc"/>
<path d="M231.3,1589.7 C231.9,1589.5 238.8,1586.6 240.8,1585.8 C242.8,1585.0 262.9,1576.8 265.4,1575.6 C267.9,1574.4 282.2,1567.1 284.5,1566.0 C286.8,1564.9 302.7,1556.9 305.0,1555.9 C307.3,1554.9 321.8,1549.1 324.1,1548.3 C326.4,1547.5 342.3,1541.9 344.6,1541.4 C346.9,1540.9 361.4,1539.4 363.7,1539.3 C366.0,1539.2 381.9,1540.5 384.2,1540.1 C386.5,1539.7 401.0,1533.2 403.3,1532.7 C405.6,1532.2 421.3,1532.1 423.7,1531.9 C426.1,1531.7 441.8,1529.5 444.2,1529.2 C446.6,1528.9 462.5,1527.2 464.7,1527.0 C466.9,1526.8 480.2,1525.1 482.4,1525.6 C484.6,1526.1 500.5,1534.6 502.9,1536.0 C505.3,1537.4 521.0,1547.9 523.4,1549.6 C525.8,1551.3 541.5,1563.0 543.9,1564.7 C546.3,1566.4 561.9,1576.9 564.3,1578.3 C566.7,1579.7 582.5,1588.4 584.8,1589.2 C587.1,1590.0 601.7,1591.3 603.9,1591.4 C606.1,1591.5 620.7,1591.6 623.0,1591.4 C625.3,1591.2 641.1,1588.6 643.5,1587.9 C645.9,1587.2 661.5,1581.0 664.0,1579.7 C666.5,1578.4 683.8,1567.5 686.2,1565.7 C688.6,1563.9 702.2,1551.7 704.4,1549.6 C706.6,1547.5 721.2,1532.8 723.5,1530.5 C725.8,1528.2 741.6,1512.0 744.0,1510.1 C746.4,1508.2 762.1,1499.1 764.4,1497.8 C766.7,1496.5 781.4,1488.8 783.6,1488.2 C785.8,1487.6 800.4,1487.3 802.7,1488.2 C805.0,1489.1 820.7,1501.5 823.1,1503.2 C825.5,1505.0 841.2,1516.1 843.6,1518.2 C846.0,1520.3 861.8,1536.9 864.1,1538.7 C866.4,1540.5 880.9,1548.4 883.2,1549.6 C885.5,1550.8 901.3,1558.2 903.7,1559.2 C906.1,1560.2 921.8,1566.5 924.1,1566.8 C926.4,1567.1 941.1,1565.2 943.3,1564.7 C945.5,1564.2 960.1,1558.7 962.4,1558.6 C964.7,1558.5 980.5,1562.9 982.8,1563.3 C985.1,1563.7 999.7,1564.5 1002.0,1565.2 C1004.3,1565.9 1020.1,1574.3 1022.4,1575.0 C1024.7,1575.7 1039.2,1577.5 1041.5,1577.5 C1043.8,1577.5 1059.6,1575.2 1062.0,1574.2 C1064.4,1573.2 1080.1,1562.2 1082.5,1560.6 C1084.9,1559.0 1100.7,1548.7 1103.0,1546.9 C1105.3,1545.1 1119.9,1532.2 1122.1,1530.5 C1124.3,1528.8 1137.8,1518.2 1140.2,1516.9 C1142.6,1515.6 1160.1,1509.6 1162.5,1508.7 C1164.9,1507.8 1179.3,1501.7 1181.6,1501.3 C1183.9,1500.9 1199.7,1502.2 1202.1,1502.4 C1204.5,1502.6 1220.2,1504.8 1222.5,1505.1 C1224.8,1505.4 1239.3,1507.3 1241.6,1507.3 C1243.9,1507.3 1259.8,1504.8 1262.1,1504.6 C1264.4,1504.4 1278.9,1503.5 1281.2,1503.5 C1283.5,1503.5 1299.3,1504.4 1301.7,1505.1 C1304.1,1505.8 1319.8,1514.2 1322.2,1515.5 C1324.6,1516.8 1340.4,1526.2 1342.7,1527.8 C1345.0,1529.4 1359.5,1540.9 1361.8,1542.3 C1364.1,1543.7 1379.9,1550.8 1382.2,1552.4 C1384.5,1554.0 1399.1,1568.1 1401.4,1570.1 C1403.7,1572.1 1419.4,1584.6 1421.8,1586.5 C1424.2,1588.4 1440.0,1601.5 1442.3,1602.9 C1444.6,1604.3 1459.1,1610.6 1461.4,1611.1 C1463.7,1611.6 1479.5,1611.5 1481.9,1611.1 C1484.3,1610.7 1500.1,1605.3 1502.4,1604.2 C1504.7,1603.1 1519.2,1593.5 1521.5,1592.0 C1523.8,1590.5 1539.5,1580.4 1541.9,1578.3 C1544.3,1576.2 1560.2,1559.0 1562.4,1556.5 C1564.6,1554.0 1577.0,1538.2 1578.8,1536.0 C1580.6,1533.8 1591.5,1520.7 1592.5,1519.6 C1593.5,1518.5 1595.0,1516.6 1595.2,1516.4" fill="none" stroke="#16a4fa" stroke-width="3.5" stroke-linejoin="round"/>
</g>
<g clip-path="url(#clipE)">
<path d="M231.3,1887.9 C231.6,1888.2 235.7,1891.8 236.7,1892.7 C237.7,1893.6 247.4,1902.5 249.0,1903.6 C250.6,1904.7 261.9,1911.1 264.0,1911.8 C266.1,1912.5 282.1,1915.7 284.5,1915.9 C286.9,1916.1 302.7,1916.1 305.0,1915.9 C307.3,1915.7 321.8,1912.8 324.1,1912.6 C326.4,1912.4 342.3,1912.0 344.6,1911.8 C346.9,1911.6 361.4,1909.0 363.7,1909.0 C366.0,1909.0 381.9,1911.2 384.2,1911.8 C386.5,1912.4 401.0,1918.8 403.3,1920.0 C405.6,1921.2 421.3,1930.9 423.7,1932.2 C426.1,1933.5 441.8,1940.4 444.2,1941.8 C446.6,1943.2 462.4,1955.3 464.7,1956.8 C467.0,1958.3 481.5,1966.5 483.8,1967.7 C486.1,1968.9 502.0,1976.3 504.3,1977.3 C506.6,1978.3 521.1,1983.5 523.4,1984.1 C525.7,1984.7 541.5,1987.9 543.9,1988.2 C546.3,1988.5 562.0,1988.9 564.3,1989.0 C566.6,1989.1 581.2,1990.0 583.4,1990.1 C585.6,1990.2 600.3,1989.8 602.6,1990.1 C604.9,1990.4 620.6,1995.1 623.0,1995.0 C625.4,1994.9 641.1,1988.9 643.5,1988.2 C645.9,1987.5 661.5,1983.6 664.0,1982.7 C666.5,1981.8 683.8,1974.3 686.2,1972.8 C688.6,1971.3 702.2,1958.5 704.4,1956.8 C706.6,1955.1 721.2,1945.9 723.5,1944.5 C725.8,1943.1 741.7,1934.5 744.0,1933.6 C746.3,1932.7 760.8,1929.7 763.1,1929.0 C765.4,1928.3 781.3,1922.6 783.6,1921.9 C785.9,1921.2 800.4,1916.9 802.7,1916.4 C805.0,1915.9 820.7,1913.4 823.1,1913.1 C825.5,1912.8 841.3,1911.8 843.6,1911.8 C845.9,1911.8 860.4,1912.4 862.7,1912.6 C865.0,1912.8 880.8,1913.8 883.2,1914.5 C885.6,1915.2 901.4,1923.1 903.7,1924.1 C906.0,1925.1 920.5,1929.9 922.8,1930.9 C925.1,1931.9 940.9,1939.2 943.3,1940.4 C945.7,1941.6 961.4,1950.1 963.7,1951.4 C966.0,1952.7 980.5,1961.1 982.8,1962.3 C985.1,1963.5 1001.0,1970.6 1003.3,1971.8 C1005.6,1973.0 1020.1,1981.6 1022.4,1982.7 C1024.7,1983.8 1040.6,1990.2 1042.9,1990.9 C1045.2,1991.6 1059.7,1994.7 1062.0,1995.0 C1064.3,1995.3 1080.2,1995.8 1082.5,1995.6 C1084.8,1995.4 1099.3,1991.7 1101.6,1990.9 C1103.9,1990.1 1119.8,1983.6 1122.1,1982.7 C1124.4,1981.8 1137.8,1976.9 1140.2,1976.3 C1142.6,1975.7 1160.1,1972.3 1162.5,1971.8 C1164.9,1971.3 1179.3,1968.6 1181.6,1968.3 C1183.9,1968.0 1199.8,1967.4 1202.1,1967.2 C1204.4,1967.0 1218.9,1964.3 1221.2,1964.5 C1223.5,1964.7 1239.2,1969.2 1241.6,1970.5 C1244.0,1971.8 1259.7,1984.9 1262.1,1986.8 C1264.5,1988.7 1280.2,2001.2 1282.6,2003.2 C1285.0,2005.2 1300.8,2019.0 1303.1,2021.0 C1305.4,2023.0 1319.9,2035.3 1322.2,2037.3 C1324.5,2039.3 1340.4,2053.2 1342.7,2055.1 C1345.0,2057.0 1359.5,2068.6 1361.8,2070.1 C1364.1,2071.6 1379.9,2079.9 1382.2,2081.0 C1384.5,2082.1 1399.1,2088.4 1401.4,2089.2 C1403.7,2090.0 1419.4,2094.9 1421.8,2095.5 C1424.2,2096.1 1440.0,2099.8 1442.3,2100.1 C1444.6,2100.4 1459.1,2101.0 1461.4,2101.0 C1463.7,2101.0 1479.5,2099.6 1481.9,2099.3 C1484.3,2099.0 1500.1,2095.9 1502.4,2095.5 C1504.7,2095.1 1519.2,2092.3 1521.5,2091.9 C1523.8,2091.5 1539.5,2089.0 1541.9,2088.4 C1544.3,2087.8 1560.2,2081.6 1562.4,2081.0 C1564.6,2080.4 1577.0,2078.5 1578.8,2078.3 C1580.6,2078.1 1591.5,2077.0 1592.5,2076.9 C1593.5,2076.8 1595.0,2076.6 1595.2,2076.6 L1595.2,2108.3 C1595.0,2108.3 1593.5,2108.3 1592.5,2108.3 C1591.5,2108.3 1580.6,2108.3 1578.8,2108.3 C1577.0,2108.3 1564.6,2108.3 1562.4,2108.3 C1560.2,2108.3 1544.3,2108.3 1541.9,2108.3 C1539.5,2108.3 1523.8,2108.3 1521.5,2108.3 C1519.2,2108.3 1504.7,2108.3 1502.4,2108.3 C1500.1,2108.3 1484.3,2108.3 1481.9,2108.3 C1479.5,2108.3 1463.7,2108.3 1461.4,2108.3 C1459.1,2108.3 1444.6,2108.4 1442.3,2108.3 C1440.0,2108.2 1424.2,2107.2 1421.8,2107.0 C1419.4,2106.8 1403.7,2105.1 1401.4,2104.8 C1399.1,2104.5 1384.5,2102.0 1382.2,2101.5 C1379.9,2101.0 1364.1,2096.8 1361.8,2096.0 C1359.5,2095.2 1345.0,2089.0 1342.7,2087.9 C1340.4,2086.8 1324.5,2078.1 1322.2,2076.9 C1319.9,2075.7 1305.4,2068.6 1303.1,2067.4 C1300.8,2066.2 1285.0,2057.8 1282.6,2056.5 C1280.2,2055.2 1264.5,2046.9 1262.1,2045.5 C1259.7,2044.1 1244.0,2034.3 1241.6,2033.3 C1239.2,2032.3 1223.5,2028.5 1221.2,2028.3 C1218.9,2028.1 1204.4,2030.4 1202.1,2030.5 C1199.8,2030.6 1183.9,2029.9 1181.6,2030.0 C1179.3,2030.1 1164.9,2031.7 1162.5,2031.9 C1160.1,2032.1 1142.6,2032.6 1140.2,2033.0 C1137.8,2033.4 1124.4,2037.5 1122.1,2038.2 C1119.8,2038.9 1103.9,2044.8 1101.6,2045.5 C1099.3,2046.2 1084.8,2050.0 1082.5,2050.2 C1080.2,2050.4 1064.3,2049.4 1062.0,2049.1 C1059.7,2048.8 1045.2,2044.9 1042.9,2044.2 C1040.6,2043.5 1024.7,2038.2 1022.4,2037.3 C1020.1,2036.4 1005.6,2030.0 1003.3,2029.2 C1001.0,2028.4 985.1,2024.6 982.8,2023.7 C980.5,2022.8 966.0,2015.1 963.7,2014.1 C961.4,2013.1 945.7,2006.9 943.3,2006.0 C940.9,2005.1 925.1,1999.8 922.8,1999.1 C920.5,1998.4 906.0,1994.4 903.7,1993.7 C901.4,1993.0 885.6,1987.8 883.2,1987.4 C880.8,1987.0 865.0,1986.9 862.7,1986.8 C860.4,1986.7 845.9,1986.3 843.6,1986.3 C841.3,1986.3 825.5,1986.2 823.1,1986.3 C820.7,1986.4 805.0,1987.9 802.7,1988.2 C800.4,1988.5 785.9,1991.7 783.6,1992.3 C781.3,1992.9 765.4,1997.2 763.1,1997.8 C760.8,1998.4 746.3,2001.1 744.0,2001.9 C741.7,2002.7 725.8,2010.4 723.5,2011.4 C721.2,2012.4 706.6,2018.5 704.4,2019.6 C702.2,2020.7 688.6,2029.7 686.2,2030.8 C683.8,2031.9 666.5,2037.4 664.0,2038.2 C661.5,2039.0 645.9,2043.5 643.5,2044.2 C641.1,2044.9 625.4,2049.5 623.0,2049.6 C620.6,2049.7 604.9,2046.6 602.6,2046.4 C600.3,2046.2 585.6,2047.0 583.4,2046.9 C581.2,2046.8 566.6,2045.6 564.3,2045.5 C562.0,2045.4 546.3,2045.7 543.9,2045.5 C541.5,2045.3 525.7,2043.2 523.4,2042.8 C521.1,2042.4 506.6,2039.3 504.3,2038.7 C502.0,2038.1 486.1,2032.8 483.8,2031.9 C481.5,2031.0 467.0,2024.7 464.7,2023.7 C462.4,2022.7 446.6,2014.9 444.2,2014.1 C441.8,2013.3 426.1,2010.7 423.7,2010.0 C421.3,2009.3 405.6,2002.7 403.3,2001.9 C401.0,2001.1 386.5,1996.0 384.2,1995.6 C381.9,1995.2 366.0,1994.3 363.7,1994.5 C361.4,1994.7 346.9,1998.7 344.6,1999.1 C342.3,1999.5 326.4,2001.4 324.1,2001.9 C321.8,2002.4 307.3,2006.8 305.0,2007.3 C302.7,2007.8 286.9,2009.8 284.5,2010.0 C282.1,2010.2 266.1,2011.6 264.0,2011.4 C261.9,2011.2 250.6,2007.9 249.0,2007.3 C247.4,2006.7 237.7,2002.4 236.7,2001.9 C235.7,2001.4 231.6,1999.6 231.3,1999.5 Z" fill="#e8d0fc"/>
<path d="M231.3,1943.7 C231.6,1943.9 235.7,1946.6 236.7,1947.3 C237.7,1948.0 247.4,1954.6 249.0,1955.4 C250.6,1956.2 261.9,1961.3 264.0,1961.7 C266.1,1962.1 282.1,1962.8 284.5,1962.8 C286.9,1962.8 302.7,1962.0 305.0,1961.7 C307.3,1961.4 321.8,1957.2 324.1,1956.8 C326.4,1956.4 342.3,1955.8 344.6,1955.4 C346.9,1955.0 361.4,1950.6 363.7,1950.5 C366.0,1950.4 381.9,1953.5 384.2,1954.1 C386.5,1954.7 401.0,1959.1 403.3,1960.1 C405.6,1961.1 421.3,1970.0 423.7,1971.0 C426.1,1972.0 441.8,1976.2 444.2,1977.3 C446.6,1978.4 462.4,1988.3 464.7,1989.6 C467.0,1990.9 481.5,1998.0 483.8,1999.1 C486.1,2000.2 502.0,2007.3 504.3,2008.1 C506.6,2008.9 521.1,2013.1 523.4,2013.6 C525.7,2014.1 541.5,2017.2 543.9,2017.4 C546.3,2017.6 562.0,2017.3 564.3,2017.4 C566.6,2017.5 581.2,2019.1 583.4,2019.1 C585.6,2019.1 600.3,2017.2 602.6,2017.4 C604.9,2017.6 620.6,2023.0 623.0,2022.9 C625.4,2022.8 641.1,2016.3 643.5,2015.5 C645.9,2014.7 661.5,2010.8 664.0,2010.0 C666.5,2009.2 683.8,2003.5 686.2,2002.3 C688.6,2001.1 702.2,1991.0 704.4,1989.6 C706.6,1988.2 721.2,1980.0 723.5,1978.7 C725.8,1977.4 741.7,1968.6 744.0,1967.7 C746.3,1966.8 760.8,1964.2 763.1,1963.6 C765.4,1963.0 781.3,1957.5 783.6,1956.8 C785.9,1956.1 800.4,1952.3 802.7,1951.9 C805.0,1951.5 820.7,1949.4 823.1,1949.2 C825.5,1949.0 841.3,1948.6 843.6,1948.6 C845.9,1948.6 860.4,1949.3 862.7,1949.4 C865.0,1949.5 880.8,1949.4 883.2,1950.0 C885.6,1950.6 901.4,1958.1 903.7,1959.0 C906.0,1959.9 920.5,1964.2 922.8,1965.0 C925.1,1965.8 940.9,1972.2 943.3,1973.2 C945.7,1974.2 961.4,1981.6 963.7,1982.7 C966.0,1983.8 980.5,1991.8 982.8,1992.8 C985.1,1993.8 1001.0,1999.5 1003.3,2000.5 C1005.6,2001.5 1020.1,2009.0 1022.4,2010.0 C1024.7,2011.0 1040.6,2016.1 1042.9,2016.9 C1045.2,2017.7 1059.7,2022.5 1062.0,2022.9 C1064.3,2023.3 1080.2,2024.0 1082.5,2023.7 C1084.8,2023.4 1099.3,2019.0 1101.6,2018.2 C1103.9,2017.4 1119.8,2010.8 1122.1,2010.0 C1124.4,2009.2 1137.8,2005.1 1140.2,2004.6 C1142.6,2004.1 1160.1,2001.4 1162.5,2001.0 C1164.9,2000.6 1179.3,1998.0 1181.6,1997.8 C1183.9,1997.6 1199.8,1998.5 1202.1,1998.3 C1204.4,1998.1 1218.9,1994.8 1221.2,1995.0 C1223.5,1995.2 1239.2,1999.8 1241.6,2001.0 C1244.0,2002.2 1259.7,2013.9 1262.1,2015.5 C1264.5,2017.1 1280.2,2027.6 1282.6,2029.2 C1285.0,2030.8 1300.8,2041.3 1303.1,2042.8 C1305.4,2044.3 1319.9,2053.5 1322.2,2055.1 C1324.5,2056.7 1340.4,2068.5 1342.7,2070.1 C1345.0,2071.7 1359.5,2081.2 1361.8,2082.4 C1364.1,2083.6 1379.9,2089.8 1382.2,2090.6 C1384.5,2091.4 1399.1,2095.4 1401.4,2096.0 C1403.7,2096.6 1419.4,2099.7 1421.8,2100.1 C1424.2,2100.5 1440.0,2102.7 1442.3,2102.9 C1444.6,2103.1 1459.1,2102.9 1461.4,2102.9 C1463.7,2102.9 1479.5,2102.5 1481.9,2102.3 C1484.3,2102.1 1500.1,2100.3 1502.4,2100.1 C1504.7,2099.9 1519.2,2098.4 1521.5,2098.2 C1523.8,2098.0 1539.5,2096.4 1541.9,2096.0 C1544.3,2095.6 1560.2,2092.2 1562.4,2091.9 C1564.6,2091.6 1577.0,2090.8 1578.8,2090.6 C1580.6,2090.4 1591.5,2089.3 1592.5,2089.2 C1593.5,2089.1 1595.0,2088.9 1595.2,2088.9" fill="none" stroke="#6a14dc" stroke-width="3.5" stroke-linejoin="round"/>
</g>
<g stroke="#000" stroke-width="5.2" fill="none" stroke-linecap="butt">
<rect x="234.3" y="35.9" width="1357.9" height="2071.1"/>
<line x1="234.3" y1="450.1" x2="1592.2" y2="450.1"/>
<line x1="234.3" y1="864.4" x2="1592.2" y2="864.4"/>
<line x1="234.3" y1="1278.6" x2="1592.2" y2="1278.6"/>
<line x1="234.3" y1="1692.8" x2="1592.2" y2="1692.8"/>
</g>
<g stroke="#000" stroke-width="5.0" fill="none" stroke-linecap="butt">
<line x1="206.5" y1="450.1" x2="234.3" y2="450.1"/>
<line x1="218.9" y1="397.3" x2="234.3" y2="397.3"/>
<line x1="206.5" y1="344.5" x2="234.3" y2="344.5"/>
<line x1="218.9" y1="291.7" x2="234.3" y2="291.7"/>
<line x1="206.5" y1="238.9" x2="234.3" y2="238.9"/>
<line x1="218.9" y1="186.1" x2="234.3" y2="186.1"/>
<line x1="206.5" y1="133.3" x2="234.3" y2="133.3"/>
<line x1="218.9" y1="80.5" x2="234.3" y2="80.5"/>
<line x1="394.1" y1="450.1" x2="394.1" y2="478.5"/>
<line x1="593.7" y1="450.1" x2="593.7" y2="464.1"/>
<line x1="793.4" y1="450.1" x2="793.4" y2="478.5"/>
<line x1="993.1" y1="450.1" x2="993.1" y2="464.1"/>
<line x1="1192.8" y1="450.1" x2="1192.8" y2="478.5"/>
<line x1="1392.5" y1="450.1" x2="1392.5" y2="464.1"/>
<line x1="1592.2" y1="450.1" x2="1592.2" y2="478.5"/>
<line x1="206.5" y1="864.4" x2="234.3" y2="864.4"/>
<line x1="218.9" y1="811.6" x2="234.3" y2="811.6"/>
<line x1="206.5" y1="758.8" x2="234.3" y2="758.8"/>
<line x1="218.9" y1="706.0" x2="234.3" y2="706.0"/>
<line x1="206.5" y1="653.2" x2="234.3" y2="653.2"/>
<line x1="218.9" y1="600.4" x2="234.3" y2="600.4"/>
<line x1="206.5" y1="547.6" x2="234.3" y2="547.6"/>
<line x1="218.9" y1="494.8" x2="234.3" y2="494.8"/>
<line x1="394.1" y1="864.4" x2="394.1" y2="892.8"/>
<line x1="593.7" y1="864.4" x2="593.7" y2="878.4"/>
<line x1="793.4" y1="864.4" x2="793.4" y2="892.8"/>
<line x1="993.1" y1="864.4" x2="993.1" y2="878.4"/>
<line x1="1192.8" y1="864.4" x2="1192.8" y2="892.8"/>
<line x1="1392.5" y1="864.4" x2="1392.5" y2="878.4"/>
<line x1="1592.2" y1="864.4" x2="1592.2" y2="892.8"/>
<line x1="206.5" y1="1278.6" x2="234.3" y2="1278.6"/>
<line x1="218.9" y1="1225.8" x2="234.3" y2="1225.8"/>
<line x1="206.5" y1="1173.0" x2="234.3" y2="1173.0"/>
<line x1="218.9" y1="1120.2" x2="234.3" y2="1120.2"/>
<line x1="206.5" y1="1067.4" x2="234.3" y2="1067.4"/>
<line x1="218.9" y1="1014.6" x2="234.3" y2="1014.6"/>
<line x1="206.5" y1="961.8" x2="234.3" y2="961.8"/>
<line x1="218.9" y1="909.0" x2="234.3" y2="909.0"/>
<line x1="394.1" y1="1278.6" x2="394.1" y2="1307.0"/>
<line x1="593.7" y1="1278.6" x2="593.7" y2="1292.6"/>
<line x1="793.4" y1="1278.6" x2="793.4" y2="1307.0"/>
<line x1="993.1" y1="1278.6" x2="993.1" y2="1292.6"/>
<line x1="1192.8" y1="1278.6" x2="1192.8" y2="1307.0"/>
<line x1="1392.5" y1="1278.6" x2="1392.5" y2="1292.6"/>
<line x1="1592.2" y1="1278.6" x2="1592.2" y2="1307.0"/>
<line x1="206.5" y1="1692.8" x2="234.3" y2="1692.8"/>
<line x1="218.9" y1="1640.0" x2="234.3" y2="1640.0"/>
<line x1="206.5" y1="1587.2" x2="234.3" y2="1587.2"/>
<line x1="218.9" y1="1534.4" x2="234.3" y2="1534.4"/>
<line x1="206.5" y1="1481.6" x2="234.3" y2="1481.6"/>
<line x1="218.9" y1="1428.8" x2="234.3" y2="1428.8"/>
<line x1="206.5" y1="1376.0" x2="234.3" y2="1376.0"/>
<line x1="218.9" y1="1323.2" x2="234.3" y2="1323.2"/>
<line x1="394.1" y1="1692.8" x2="394.1" y2="1721.2"/>
<line x1="593.7" y1="1692.8" x2="593.7" y2="1706.8"/>
<line x1="793.4" y1="1692.8" x2="793.4" y2="1721.2"/>
<line x1="993.1" y1="1692.8" x2="993.1" y2="1706.8"/>
<line x1="1192.8" y1="1692.8" x2="1192.8" y2="1721.2"/>
<line x1="1392.5" y1="1692.8" x2="1392.5" y2="1706.8"/>
<line x1="1592.2" y1="1692.8" x2="1592.2" y2="1721.2"/>
<line x1="206.5" y1="2107.0" x2="234.3" y2="2107.0"/>
<line x1="218.9" y1="2054.2" x2="234.3" y2="2054.2"/>
<line x1="206.5" y1="2001.4" x2="234.3" y2="2001.4"/>
<line x1="218.9" y1="1948.6" x2="234.3" y2="1948.6"/>
<line x1="206.5" y1="1895.8" x2="234.3" y2="1895.8"/>
<line x1="218.9" y1="1843.0" x2="234.3" y2="1843.0"/>
<line x1="206.5" y1="1790.2" x2="234.3" y2="1790.2"/>
<line x1="218.9" y1="1737.4" x2="234.3" y2="1737.4"/>
<line x1="394.1" y1="2107.0" x2="394.1" y2="2135.4"/>
<line x1="593.7" y1="2107.0" x2="593.7" y2="2121.0"/>
<line x1="793.4" y1="2107.0" x2="793.4" y2="2135.4"/>
<line x1="993.1" y1="2107.0" x2="993.1" y2="2121.0"/>
<line x1="1192.8" y1="2107.0" x2="1192.8" y2="2135.4"/>
<line x1="1392.5" y1="2107.0" x2="1392.5" y2="2121.0"/>
<line x1="1592.2" y1="2107.0" x2="1592.2" y2="2135.4"/>
</g>
<g font-size="64" text-anchor="end">
<text x="191.3" y="468.5">0.0</text>
<text x="189.3" y="362.9">2.8</text>
<text x="189.3" y="257.3">5.6</text>
<text x="188.5" y="151.7">8.4</text>
<text x="191.3" y="882.8">0.0</text>
<text x="189.3" y="777.2">2.8</text>
<text x="189.3" y="671.6">5.6</text>
<text x="188.5" y="566.0">8.4</text>
<text x="191.3" y="1297.0">0.0</text>
<text x="189.3" y="1191.4">2.8</text>
<text x="189.3" y="1085.8">5.6</text>
<text x="188.5" y="980.2">8.4</text>
<text x="191.3" y="1711.2">0.0</text>
<text x="189.3" y="1605.6">2.8</text>
<text x="189.3" y="1500.0">5.6</text>
<text x="188.5" y="1394.4">8.4</text>
<text x="191.3" y="2125.4">0.0</text>
<text x="189.3" y="2019.8">2.8</text>
<text x="189.3" y="1914.2">5.6</text>
<text x="188.5" y="1808.6">8.4</text>
</g>
<g font-size="65" text-anchor="middle">
<text x="793.4" y="2200.8">0</text>
<text x="1192.8" y="2200.8">5</text>
<text x="1592.7" y="2200.8">10</text>
</g>
<text y="2205.8"><tspan x="346.5" y="2207.4" font-size="76" style="font-weight:normal">−</tspan><tspan x="388.0" y="2205.8" font-size="66.5" style="font-style:italic">5</tspan></text>
<text font-size="63" text-anchor="middle" x="900.5" y="2320.3">Z-axis Along the BM2 Channel (A)</text>
<text font-size="63.3" text-anchor="middle" transform="translate(64.3,1059.4) rotate(-90)">The Number of Water Molecules</text>
<text font-size="77" x="274.0" y="134.6">A</text>
<text font-size="77" x="274.0" y="551.6">B</text>
<text font-size="77" x="273.5" y="966.0">C</text>
<text font-size="77" x="275.0" y="1377.6">D</text>
<text font-size="77" x="275.0" y="1789.7">E</text>
<line x1="829.0" y1="341.3" x2="973.5" y2="341.3" stroke="#0c0cae" stroke-width="3.5"/>
<text font-size="62.5" x="986.5" y="362.7">6PVT_CD6</text>
<line x1="831.5" y1="543.0" x2="976.0" y2="543.0" stroke="#16cccc" stroke-width="3.5"/>
<text font-size="62.5" x="991.0" y="565.5">6PVT_CD5</text>
<line x1="837.0" y1="993.0" x2="983.0" y2="993.0" stroke="#4d10a3" stroke-width="3.5"/>
<text font-size="62.5" x="998.0" y="1015.5">6PVT_CD4</text>
<line x1="851.0" y1="1398.8" x2="996.5" y2="1398.8" stroke="#16a4fa" stroke-width="3.5"/>
<text font-size="62.5" x="1011.0" y="1421.0">6PVT</text>
<line x1="859.5" y1="1821.5" x2="1004.0" y2="1821.5" stroke="#6a14dc" stroke-width="3.5"/>
<text font-size="62.5" x="1018.0" y="1843.5">6PVR</text>
<text font-size="62" x="245.0" y="2087.6">L8</text>
<text font-size="68" x="581.5" y="2095.2">S12</text>
<text font-size="63.5" x="1004.8" y="2093.8">S16</text>
<text font-size="70" x="1426.0" y="2066.2">H19</text>
<text font-size="70" x="1361.5" y="1960.5">HxxxW</text>
<path d="M1444.2,2098.5 A148.5,49 0 1 1 1741.2,2098.5 A148.5,49 0 1 1 1444.2,2098.5" fill="none" stroke="#ff0000" stroke-width="9" stroke-dasharray="37 27.5"/>
<path fill="#6632a6" d="M1591.4,1974.9 L1608.3,1955.0 L1610.7,1965.9 C1640,1972 1666.6,2000 1666.6,2036.2 C1666.6,2072 1645,2096 1610.7,2101.8 L1607.1,2082.5 C1640,2074 1659.4,2058 1659.4,2036.2 C1659.4,2010 1640,1992 1612.5,1986.3 L1613.7,1995.3 Z"/>
</g>
</svg>
</body></html>
